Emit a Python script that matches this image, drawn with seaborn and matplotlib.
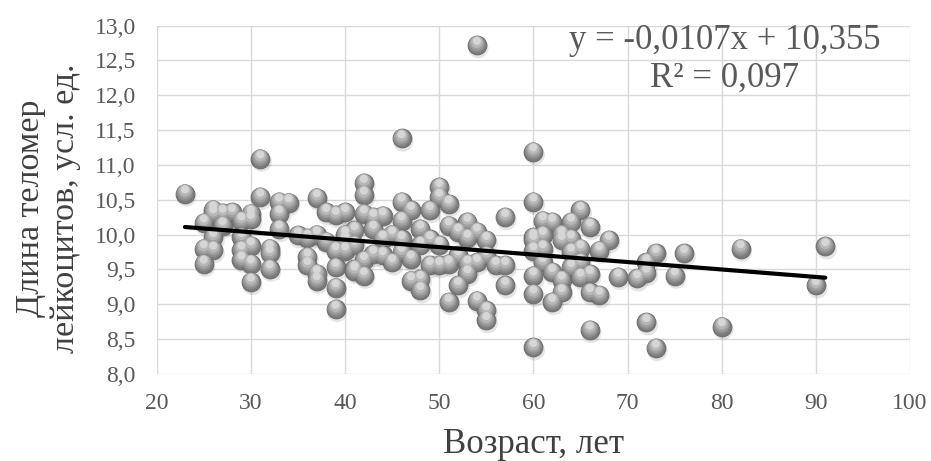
import numpy as np
import pandas as pd
import matplotlib
matplotlib.use("Agg")
import matplotlib.pyplot as plt
from matplotlib.transforms import offset_copy
from matplotlib.ticker import FuncFormatter
import seaborn as sns

# ---------------- data ----------------
age = [23,
       25, 25, 25,
       26, 26, 26, 26,
       27, 27,
       28,
       29, 29, 29, 29,
       30, 30, 30, 30, 30,
       31, 31,
       32, 32, 32,
       33, 33, 33,
       34,
       35,
       36, 36, 36,
       37, 37, 37, 37,
       38, 38,
       39, 39, 39, 39, 39,
       40, 40, 40, 40, 40,
       41, 41, 41, 41,
       42, 42, 42, 42, 42,
       43, 43, 43,
       44, 44, 44,
       45, 45,
       46, 46, 46, 46, 46,
       47, 47, 47,
       48, 48, 48, 48,
       49, 49, 49,
       50, 50, 50, 50,
       51, 51, 51, 51,
       52, 52, 52,
       53, 53, 53, 53,
       54, 54, 54, 54,
       55, 55, 55, 55,
       56,
       57, 57, 57,
       60, 60, 60, 60, 60, 60, 60, 60,
       61, 61, 61, 61,
       62, 62, 62,
       63, 63, 63, 63,
       64, 64, 64, 64,
       65, 65, 65, 65,
       66, 66, 66, 66,
       67, 67,
       68,
       69,
       71,
       72, 72, 72,
       73, 73,
       75,
       76,
       80,
       82,
       90,
       91]
telomere = [10.59,
            10.17, 9.80, 9.58,
            10.36, 9.96, 9.78, 10.30,
            10.31, 10.13,
            10.32,
            10.20, 9.96, 9.78, 9.64,
            10.30, 9.84, 9.58, 9.32, 10.22,
            11.09, 10.54,
            9.80, 9.73, 9.51,
            10.47, 10.30, 10.08,
            10.46,
            9.99,
            9.68, 9.56, 9.95,
            10.53, 10.00, 9.34, 9.44,
            10.32, 9.90,
            10.28, 9.77, 9.53, 9.24, 8.93,
            10.32, 10.00, 9.90, 9.93, 9.77,
            9.50, 9.48, 10.06, 9.85,
            10.74, 10.57, 10.30, 9.63, 9.41,
            10.25, 10.08, 9.72,
            9.94, 10.27, 9.70,
            9.60, 10.00,
            10.47, 10.20, 9.93, 11.38, 9.75,
            10.35, 9.65, 9.34,
            10.08, 9.36, 9.20, 9.85,
            10.35, 9.93, 9.56,
            10.68, 10.54, 9.56, 9.85,
            10.44, 10.13, 9.58, 9.03,
            10.04, 9.27, 9.70,
            10.18, 9.58, 9.44, 9.95,
            12.72, 10.04, 9.60, 9.05,
            9.92, 8.91, 8.77, 9.70,
            9.56,
            10.25, 9.56, 9.27,
            11.19, 10.47, 9.96, 9.77, 9.41, 9.15, 8.38, 9.92,
            10.20, 9.99, 9.80, 9.60,
            10.18, 9.46, 9.03,
            9.92, 9.35, 9.17, 10.00,
            9.94, 9.53, 10.18, 9.75,
            10.35, 9.80, 9.39, 9.60,
            10.11, 9.43, 9.17, 8.63,
            9.77, 9.13,
            9.92,
            9.39,
            9.37,
            9.45, 9.60, 8.74,
            9.73, 8.37,
            9.41,
            9.73,
            8.68,
            9.80,
            9.27,
            9.83]

slope = -0.0107
intercept = 10.355
r_squared = 0.097

x_ticks = [20, 30, 40, 50, 60, 70, 80, 90, 100]
y_ticks = [8.0, 8.5, 9.0, 9.5, 10.0, 10.5, 11.0, 11.5, 12.0, 12.5, 13.0]

x_label = "Возраст, лет"
y_label = "Длина теломер\nлейкоцитов, усл. ед."
eq_text = "y = -0,0107x + 10,355\nR² = 0,097"

df = pd.DataFrame({"age": age, "telomere": telomere})

# ---------------- style ----------------
sns.set_style("white")
plt.rcParams["font.family"] = ["Liberation Serif", "DejaVu Serif"]

fig = plt.figure(figsize=(9.31, 4.61), dpi=100)
ax = fig.add_axes([0.1683, 0.189, 0.8092, 0.7553])

base_s = 185
layers = [
    # size factor, color, alpha, dx, dy (pixels), edgecolor
    (1.15, "#000000", 0.10, 1.5, -3.0, "none"),
    (1.00, "#7a7a7a", 1.0, 0.0, 0.0, "#686868"),
    (0.78, "#8c8c8c", 1.0, 0.0, 1.0, "none"),
    (0.58, "#a0a0a0", 1.0, 0.0, 2.0, "none"),
    (0.38, "#b7b7b7", 1.0, 0.0, 3.0, "none"),
    (0.18, "#d6d6d6", 1.0, 0.0, 4.2, "none"),
]
for sf, col, al, dx, dy, ec in layers:
    sns.scatterplot(data=df, x="age", y="telomere", ax=ax, s=base_s * sf,
                    color=col, alpha=al, edgecolor=ec, linewidth=0.6,
                    legend=False, zorder=3)
    coll = ax.collections[-1]
    coll.set_offset_transform(offset_copy(ax.transData, fig=fig, x=dx, y=dy, units="dots"))

# trend line from the equation
xl = np.array([min(age), max(age)])
sns.lineplot(x=xl, y=slope * xl + intercept, ax=ax, color="black", linewidth=3.0,
             zorder=5, legend=False)

ax.set_xlim(20, 100)
ax.set_ylim(8.0, 13.0)
ax.set_xticks(x_ticks)
ax.set_yticks(y_ticks)
ax.xaxis.set_major_formatter(FuncFormatter(lambda v, p: f"{v:.0f}"))
ax.yaxis.set_major_formatter(FuncFormatter(lambda v, p: f"{v:.1f}".replace(".", ",")))
ax.grid(True, color="#d9d9d9", linewidth=1.0)
ax.set_axisbelow(True)
for sp in ax.spines.values():
    sp.set_visible(False)
ax.tick_params(axis="both", length=0, labelsize=17, labelcolor="#595959")
ax.tick_params(axis="x", pad=14)
ax.tick_params(axis="y", pad=15)

ax.set_xlabel(x_label, fontsize=25, color="#404040", va="baseline")
ax.xaxis.set_label_coords(0.5, -0.227)
ax.set_ylabel(y_label, fontsize=24.5, color="#404040", multialignment="center",
              linespacing=1.2)
ax.yaxis.set_label_coords(-0.10, 0.475)

ax.text(0.754, 0.904, eq_text, transform=ax.transAxes, ha="center", va="center",
        fontsize=25, color="#595959", multialignment="center", linespacing=1.2)

fig.savefig("out.png", dpi=100)
